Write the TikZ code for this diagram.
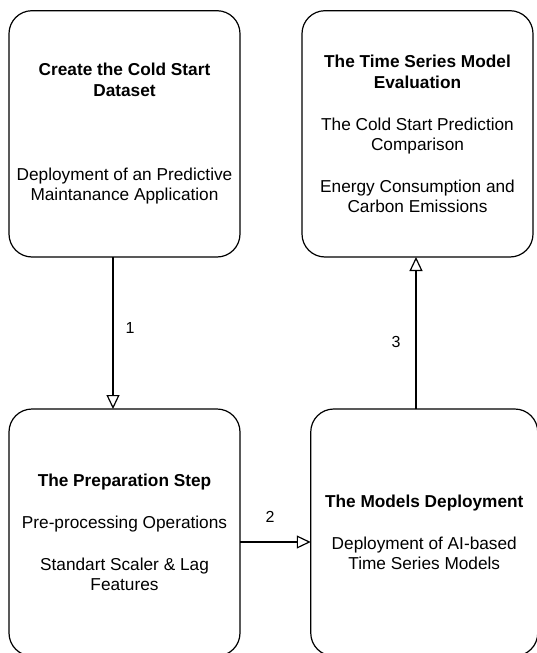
\documentclass[tikz,border=0pt]{standalone}
\usepackage{fontspec}
\setmainfont{Liberation Sans}
\usetikzlibrary{arrows.meta}
\tikzset{
  box/.style={draw, line width=1.2pt, rounded corners=23pt, align=center, inner sep=0pt, outer sep=0pt,
    font=\fontsize{17.25}{20.5}\selectfont},
  conn/.style={draw, line width=1.2pt, -{Triangle[open, length=14pt, width=13pt, line width=1.2pt]}},
  lbl/.style={font=\fontsize{16}{19}\selectfont, inner sep=0pt}
}
\begin{document}
\begin{tikzpicture}[x=1pt,y=-1pt]
\useasboundingbox (0,0) rectangle (536,653);
\node[box, minimum width=231pt, minimum height=246.3pt] (b1) at (124.5,133.85)
  {\textbf{Create the Cold Start}\\\textbf{Dataset}\\[63.5pt]Deployment of an Predictive\\Maintanance Application};
\node[box, minimum width=231pt, minimum height=246.3pt] (b2) at (417.5,133.85)
  {\textbf{The Time Series Model}\\\textbf{Evaluation}\\[21.5pt]The Cold Start Prediction\\Comparison\\[21pt]Energy Consumption and\\Carbon Emissions};
\node[box, minimum width=231pt, minimum height=247pt] (b3) at (124.5,532.5)
  {\textbf{The Preparation Step}\\[21pt]Pre-processing Operations\\[21.5pt]Standart Scaler \& Lag\\Features};
\node[box, minimum width=227pt, minimum height=247pt] (b4) at (424.25,532.5)
  {\textbf{The Models Deployment}\\[21.5pt]Deployment of AI-based\\Time Series Models};
\coordinate (a1s) at ([xshift=-11.5pt]b1.south);
\coordinate (a2s) at ([yshift=-9.5pt]b3.east);
\coordinate (a3s) at ([xshift=-8.25pt]b4.north);
\draw[conn] (a1s) -- (a1s |- b3.north);
\draw[conn] (a2s) -- (a2s -| b4.west);
\draw[conn] (a3s) -- (a3s |- b2.south);
\node[lbl] (l1) at (130,328) {1};
\node[lbl] (l2) at (270,517) {2};
\node[lbl] (l3) at (396,342) {3};
\end{tikzpicture}
\end{document}
